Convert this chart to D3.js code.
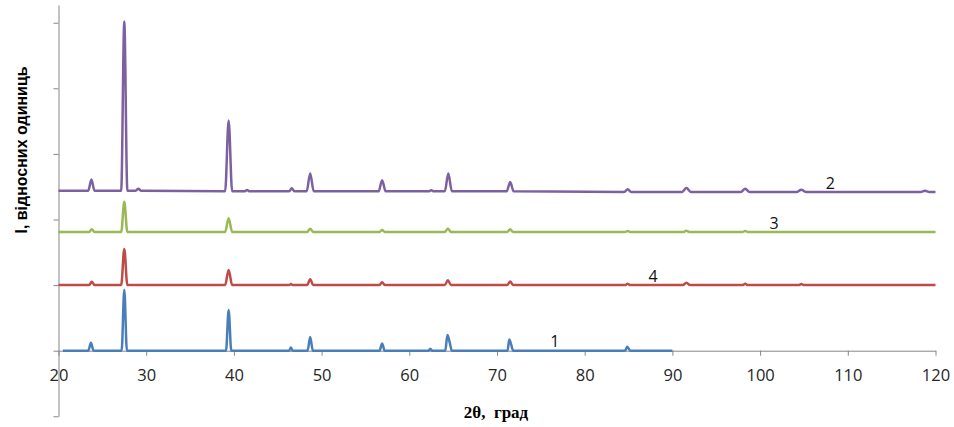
<!DOCTYPE html>
<html>
<head>
<meta charset="utf-8">
<script src="https://cdn.jsdelivr.net/npm/d3@7"></script>
<style>
  body { margin: 0; background: #fff; }
  .axis path, .axis line { stroke: #868686; }
</style>
</head>
<body>
<script>
// 2theta, intensity (relative units, x axis at 0)
var series1 = [[20.5,0],[23.4,0],[23.7,0.12],[24.0,0],[27.2,0],[27.5,0.93],[27.8,0],[39.1,0],[39.4,0.62],[39.7,0],
  [46.3,0],[46.5,0.05],[46.7,0],[48.4,0],[48.7,0.21],[49.0,0],[56.6,0],[56.9,0.11],[57.2,0],[62.2,0],[62.4,0.03],[62.6,0],
  [64.1,0],[64.35,0.24],[64.6,0.13],[64.85,0],[71.2,0],[71.4,0.17],[71.6,0.1],[71.85,0],[84.6,0],[84.85,0.06],[85.2,0],[90,0]];

var series2 = [[20,2.44],[23.4,2.44],[23.75,2.61],[24.1,2.44],[27.15,2.44],[27.5,5.02],[27.85,2.44],[28.8,2.44],[29.1,2.47],[29.4,2.44],
  [39.0,2.43],[39.4,3.51],[39.8,2.43],[41.2,2.43],[41.5,2.45],[41.8,2.43],[46.3,2.43],[46.6,2.475],[46.9,2.43],
  [48.3,2.43],[48.7,2.70],[49.1,2.43],[56.5,2.43],[56.9,2.60],[57.3,2.43],[62.2,2.43],[62.5,2.445],[62.8,2.43],
  [64.05,2.43],[64.45,2.70],[64.85,2.43],[71.1,2.43],[71.5,2.57],[71.9,2.43],[84.5,2.42],[84.9,2.46],[85.3,2.42],
  [91.1,2.42],[91.6,2.48],[92.1,2.42],[97.8,2.42],[98.3,2.47],[98.8,2.42],[104.2,2.42],[104.7,2.455],[105.2,2.42],
  [118.3,2.42],[118.8,2.44],[119.3,2.42],[120,2.42]];

var series3 = [[20,1.81],[23.5,1.81],[23.8,1.85],[24.1,1.81],[27.15,1.81],[27.5,2.27],[27.85,1.81],[39.0,1.81],[39.4,2.02],[39.8,1.81],
  [48.35,1.81],[48.7,1.86],[49.05,1.81],[56.6,1.81],[56.9,1.84],[57.2,1.81],[64.05,1.81],[64.4,1.86],[64.75,1.81],
  [71.15,1.81],[71.5,1.85],[71.85,1.81],[84.6,1.81],[84.9,1.825],[85.2,1.81],[91.3,1.81],[91.6,1.83],[91.9,1.81],
  [98.0,1.81],[98.3,1.825],[98.6,1.81],[120,1.81]];

var series4 = [[20,1.0],[23.5,1.0],[23.8,1.05],[24.1,1.0],[27.15,1.0],[27.5,1.55],[27.85,1.0],[39.0,1.0],[39.4,1.23],[39.8,1.0],
  [46.3,1.0],[46.5,1.015],[46.7,1.0],[48.35,1.0],[48.7,1.09],[49.05,1.0],[56.6,1.0],[56.9,1.045],[57.2,1.0],
  [64.05,1.0],[64.4,1.075],[64.75,1.0],[71.15,1.0],[71.5,1.055],[71.85,1.0],[84.6,1.0],[84.9,1.02],[85.2,1.0],
  [91.2,1.0],[91.6,1.035],[92.0,1.0],[98.0,1.0],[98.3,1.02],[98.6,1.0],[104.4,1.0],[104.7,1.015],[105.0,1.0],[120,1.0]];

var seriesNames = ["1", "2", "3", "4"];
var seriesColors = ["#4a7ebb", "#7d60a0", "#98b954", "#be4b48"];
var labelAt = [[76.6, 0.05], [108.0, 2.47], [101.6, 1.86], [87.8, 1.04]];

var xTicks = [20, 30, 40, 50, 60, 70, 80, 90, 100, 110, 120];
var yTicks = [-1, 0, 1, 2, 3, 4, 5];

var width = 954;
var height = 427;
var svg = d3.select("body").append("svg").attr("width", width).attr("height", height);

var x = d3.scaleLinear().domain([20, 120]).range([58.5, 935.5]);
var y = d3.scaleLinear().domain([-1, 5.27]).range([416.3, 5]);

// axes
svg.append("g")
    .attr("class", "axis")
    .attr("transform", "translate(" + x(20) + ",0)")
    .call(d3.axisLeft(y).tickValues(yTicks).tickSize(5).tickSizeOuter(0).tickFormat(""));

var xAxis = svg.append("g")
    .attr("class", "axis")
    .attr("transform", "translate(0," + y(0) + ")")
    .call(d3.axisBottom(x).tickValues(xTicks).tickSize(5).tickSizeOuter(0));
xAxis.selectAll("text")
    .attr("y", 30).attr("dy", 0)
    .style("font-family", "'Open Sans', sans-serif")
    .style("font-size", "16.5px")
    .style("fill", "#262626");

var line = d3.line()
    .x(function (d) { return x(d[0]); })
    .y(function (d) { return y(d[1]); })
    .curve(d3.curveMonotoneX);

var allSeries = [series1, series2, series3, series4];

svg.append("g").selectAll("path")
    .data(allSeries)
    .enter().append("path")
    .attr("d", line)
    .attr("fill", "none")
    .attr("stroke", function (d, i) { return seriesColors[i]; })
    .attr("stroke-width", 2.5)
    .attr("stroke-linejoin", "round");

svg.append("g").selectAll("text")
    .data(seriesNames)
    .enter().append("text")
    .attr("x", function (d, i) { return x(labelAt[i][0]); })
    .attr("y", function (d, i) { return y(labelAt[i][1]); })
    .attr("text-anchor", "middle")
    .style("font-family", "'Open Sans', sans-serif")
    .style("font-size", "16px")
    .style("fill", "#111")
    .text(function (d) { return d; });

// titles
svg.append("text")
    .attr("transform", "translate(27,150) rotate(-90)")
    .attr("text-anchor", "middle")
    .attr("textLength", 167)
    .attr("lengthAdjust", "spacingAndGlyphs")
    .style("font-family", "'Liberation Sans', sans-serif")
    .style("font-weight", "bold")
    .style("font-size", "17px")
    .text("I, відносних одиниць");

svg.append("text")
    .attr("x", 496)
    .attr("y", 418)
    .attr("text-anchor", "middle")
    .style("font-family", "'Liberation Serif', serif")
    .style("font-weight", "bold")
    .style("font-size", "17px")
    .style("white-space", "pre")
    .text("2θ,  град");
</script>
</body>
</html>
